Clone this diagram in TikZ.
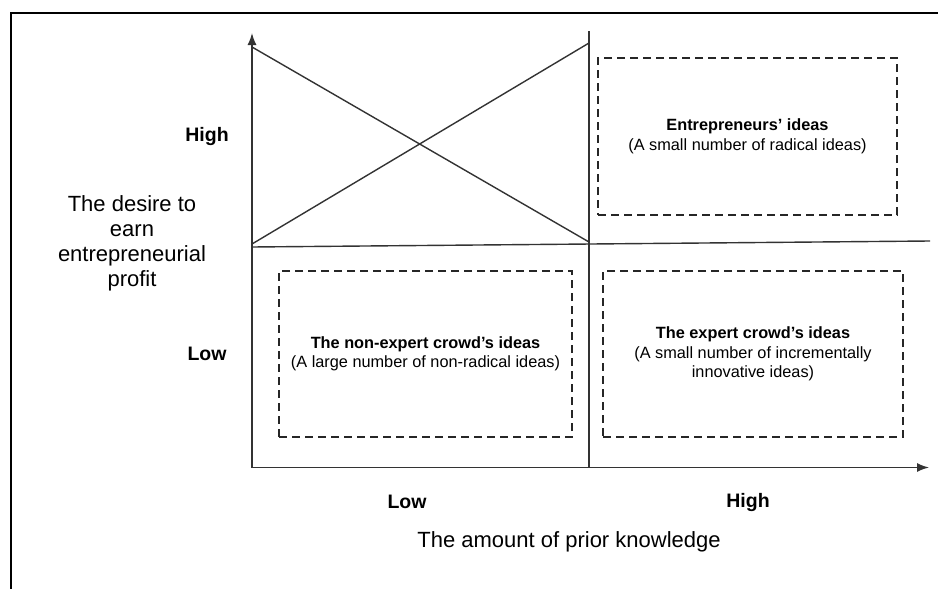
\documentclass[tikz,border=0pt]{standalone}
\usepackage{fontspec}
\setmainfont{Liberation Sans}
\usetikzlibrary{arrows.meta}

\begin{document}
\begin{tikzpicture}[x=1pt,y=-1pt,
    axis/.style={line width=1.4pt,draw=black!80},
    ideabox/.style={draw=black!85,line width=1.2pt,dash pattern=on 8pt off 5pt,
      align=center,inner sep=0pt,font=\fontsize{16.3}{19.5}\selectfont},
    tick/.style={font=\fontsize{19.5}{22}\selectfont\bfseries},
    title/.style={align=center,font=\fontsize{22}{25}\selectfont}]
            \useasboundingbox (0,0) rectangle (938,589);
            % frame
            \draw [line width=2pt] (938,13) -- (11,13) -- (11,589);
            % axes
            \coordinate (O) at (252,467.5);
            \coordinate (ytop) at (252,33);
            \coordinate (xend) at (929,467.5);
            \coordinate (mtop) at (589,31);
            \coordinate (mbot) at (589,467.5);
            \coordinate (hl) at (252,247);
            \coordinate (hr) at (930,241);
            \coordinate (d1a) at (252,47);
            \coordinate (d1b) at (589,242);
            \coordinate (d2a) at (252,244);
            \coordinate (d2b) at (589,43);
            \draw [axis,-{Latex[length=12pt,width=9pt]}] (O) -- (ytop);
            \draw [axis,-{Latex[length=12pt,width=9pt]}] (O) -- (xend);
            \draw [axis] (mtop) -- (mbot);
            \draw [axis] (hl) -- (hr);
            \draw [axis] (d1a) -- (d1b);
            \draw [axis] (d2a) -- (d2b);
            % quadrants
            \node [ideabox,minimum width=299pt,minimum height=157pt] (entre) at (747.5,136.5)
              {\textbf{Entrepreneurs’ ideas}\\(A small number of radical ideas)};
            \node [ideabox,minimum width=293pt,minimum height=166pt] (nonexp) at (425.5,354)
              {\textbf{The non-expert crowd’s ideas}\\(A large number of non-radical ideas)};
            \node [ideabox,minimum width=300pt,minimum height=166pt] (exp) at (753,354)
              {\textbf{The expert crowd’s ideas}\\(A small number of incrementally\\innovative ideas)};
          \node [tick] (yhigh) at (207,137) {High};
          \node [tick] (ylow) at (207,354) {Low};
          \node [tick] (xlow) at (407,502) {Low};
          \node [tick] (xhigh) at (748,502) {High};
          \node [title] (ylab) at (132,243) {The desire to\\earn\\entrepreneurial\\profit};
          \node [title] (xlab) at (569,542) {The amount of prior knowledge};
        \end{tikzpicture}
\end{document}
